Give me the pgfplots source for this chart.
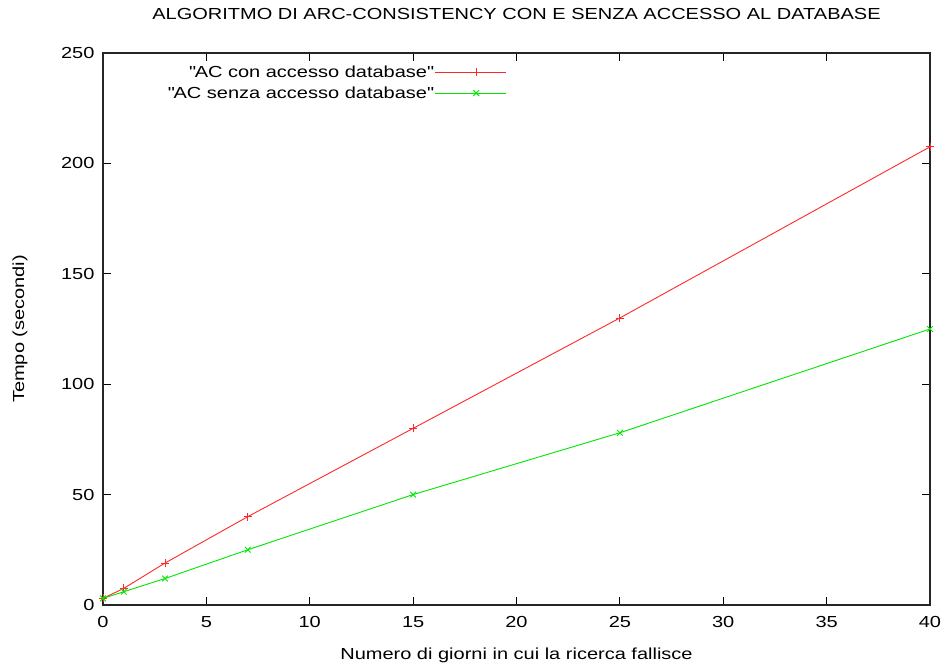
\documentclass[border=0pt]{standalone}
\usepackage{pgfplots}
\pgfplotsset{compat=1.18}
\usepackage{fontspec}
\setmainfont{Liberation Sans}[FakeStretch=1.25, Ligatures=ResetAll]
\newcommand\dq{\XeTeXglyph\XeTeXcharglyph"22\relax}
\definecolor{gred}{RGB}{255,40,40}
\definecolor{ggreen}{RGB}{0,230,0}
\begin{document}
\begin{tikzpicture}
\begin{axis}[
  scale only axis,
  width=827pt, height=552pt,
  at={(0,0)}, anchor=south west,
  xmin=0, xmax=40, ymin=0, ymax=250,
  xtick={0,5,...,40}, ytick={0,50,...,250},
  major tick length=8pt,
  tick style={black, line width=0.8pt},
  axis line style={line width=1.3pt, black!85},
  font=\fontsize{16}{19}\selectfont,
  tick label style={font=\fontsize{16}{19}\selectfont},
  yticklabel style={xshift=-5pt},
  xticklabel style={yshift=-8pt},
  /pgf/number format/assume math mode=true,
  title={ALGORITMO DI ARC-CONSISTENCY CON E SENZA ACCESSO AL DATABASE},
  title style={at={(0.5,1)}, anchor=center, yshift=33pt},
  xlabel={Numero di giorni in cui la ricerca fallisce},
  xlabel style={at={(0.5,0)}, anchor=center, yshift=-50pt},
  ylabel={Tempo (secondi)},
  every axis y label/.style={at={([xshift=-83pt]axis description cs:0,0.5)}, anchor=center, rotate=90},
  legend plot pos=right,
  legend cell align=right,
  legend style={draw=none, fill=none, at={(0.492,0.985)}, anchor=north east,
    font=\fontsize{16}{19}\selectfont, row sep=4pt},
  legend image code/.code={
    \path (0pt,0pt) -- (71pt,0pt);
    \draw[mark repeat=2,mark phase=2,#1] plot coordinates {(11pt,0pt) (41pt,0pt) (71pt,0pt)};
  },
]
\addplot[gred, line width=0.9pt, mark=+, mark size=4pt] coordinates {
(0,3) (1,7.5) (3,19) (7,40) (15,80) (25,130) (40,207.5)};
\addlegendentry{\dq AC con accesso database\dq}
\addplot[ggreen, line width=0.9pt, mark=x, mark size=4pt] coordinates {
(0,3) (1,6) (3,12) (7,25) (15,50) (25,78) (40,125)};
\addlegendentry{\dq AC senza accesso database\dq}
\end{axis}
\pgfresetboundingbox
\path (-103pt,-63pt) rectangle (843pt,605pt);
\end{tikzpicture}
\end{document}
